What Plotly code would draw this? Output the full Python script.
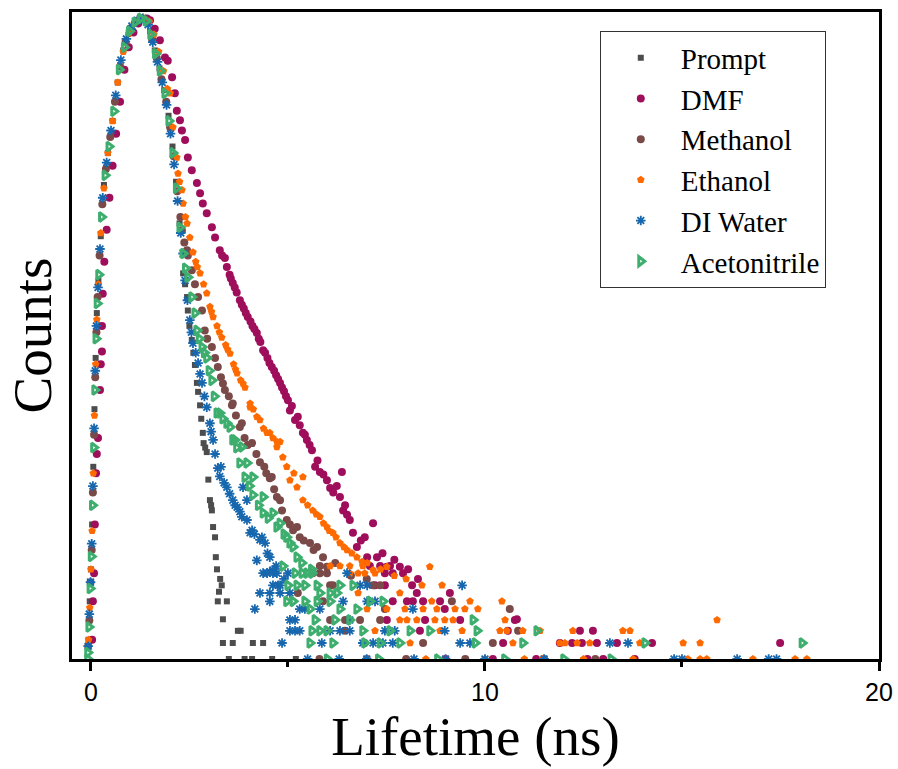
import plotly.graph_objects as go

# ---- data (time in ns, normalised counts) ----
prompt = [(-0.06,0.03),(-0.03,0.09),(0.0,0.14),(0.03,0.21),(0.06,0.30),(0.09,0.39),(0.12,0.47),(0.15,0.54),
          (0.19,0.59),(0.25,0.66),(0.33,0.74),(0.43,0.79),(0.55,0.84),(0.68,0.90),(0.82,0.95),(0.96,0.978),
          (1.10,0.992),(1.24,1.0),(1.38,0.998),(1.50,0.98),(1.62,0.95),(1.74,0.922),(1.86,0.888),(1.97,0.848),
          (2.07,0.80),(2.16,0.745),(2.25,0.68),(2.34,0.602),(2.39,0.585),(2.44,0.565),(2.46,0.544),(2.50,0.52),
          (2.56,0.498),(2.60,0.478),(2.64,0.459),(2.69,0.431),(2.72,0.417),(2.77,0.396),(2.80,0.375),(2.84,0.353),
          (2.86,0.337),(2.90,0.33),(2.94,0.323),(2.98,0.28),(3.02,0.248),(3.05,0.24),(3.07,0.232),(3.10,0.206),
          (3.15,0.190),(3.17,0.159),(3.20,0.14),(3.28,0.125),(3.32,0.115),(3.25,0.105),(3.22,0.090),(3.45,0.090),
          (3.35,0.062),(3.73,0.044),(3.80,0.044),(3.35,0.025),(3.60,0.025),(4.11,0.025),(4.37,0.025),(3.50,0.0),
          (3.90,0.0),(4.09,0.0),(4.60,0.0),(5.20,0.0)]

dmf = [(0.03,0.03),(0.05,0.09),(0.08,0.134),(0.10,0.21),(0.13,0.29),(0.15,0.32),(0.18,0.345),(0.23,0.42),
       (0.25,0.46),(0.28,0.48),(0.28,0.52),(0.30,0.57),(0.34,0.62),(0.40,0.67),(0.47,0.72),(0.55,0.77),
       (0.64,0.82),(0.74,0.87),(0.85,0.92),(0.96,0.955),(1.08,0.978),(1.20,0.992),(1.32,0.999),(1.42,1.0),
       (1.50,0.997),(1.62,0.984),(1.75,0.966),(1.88,0.939),(1.95,0.934),(2.06,0.908),(2.13,0.883),(2.18,0.856),
       (2.26,0.841),(2.31,0.825),(2.39,0.810),(2.46,0.783),(2.56,0.763),(2.69,0.743),(2.77,0.727),(2.84,0.711),
       (2.94,0.696),(3.07,0.674),(3.15,0.658),(3.27,0.638),(3.33,0.63),(3.40,0.626),(3.45,0.612),(3.52,0.60),
       (3.55,0.594),(3.60,0.587),(3.65,0.58),(3.70,0.572),(3.78,0.560),(3.83,0.553),(3.88,0.547),(3.93,0.54),
       (3.98,0.534),(4.05,0.527),(4.10,0.52),(4.15,0.515),(4.21,0.509),(4.26,0.50),(4.30,0.495),(4.37,0.482),
       (4.42,0.478),(4.48,0.47),(4.53,0.462),(4.59,0.456),(4.65,0.45),(4.70,0.443),(4.75,0.437),(4.80,0.431),
       (4.85,0.424),(4.90,0.418),(4.95,0.41),(5.00,0.404),(5.05,0.388),(5.10,0.395),(5.18,0.373),(5.25,0.378),
       (5.30,0.365),(5.38,0.353),(5.43,0.35),(5.48,0.342),(5.55,0.334),(5.61,0.326),(5.69,0.300),(5.75,0.31),
       (5.81,0.292),(5.90,0.288),(5.99,0.279),(6.07,0.267),(6.15,0.26),(6.24,0.270),(6.32,0.253),(6.37,0.292),
       (6.40,0.232),(6.45,0.24),(6.50,0.225),(6.57,0.217),(6.65,0.197),(6.75,0.175),(6.85,0.185),(6.95,0.19),
       (7.01,0.159),(7.16,0.212),(7.26,0.159),(7.40,0.165),(7.51,0.144),(7.70,0.155),(7.84,0.144),(7.92,0.134),
       (8.05,0.14),(8.30,0.125),
       (7.08,0.145),(7.34,0.145),(7.59,0.145),(7.46,0.134),(7.66,0.134),(8.15,0.115),(7.21,0.115),(7.46,0.115),
       (8.27,0.103),(9.11,0.103),(7.66,0.090),(8.02,0.090),(8.17,0.090),(8.43,0.090),(8.86,0.090),(8.98,0.078),
       (10.81,0.062),(7.51,0.061),(8.48,0.061),(9.37,0.061),(10.76,0.061),(8.35,0.044),(10.58,0.044),
       (12.41,0.044),(12.74,0.044),(10.46,0.025),(11.90,0.025),(12.21,0.025),(12.46,0.025),(12.84,0.025),
       (13.35,0.025),(14.24,0.025),(17.49,0.025),(9.00,0.0),(10.20,0.0),(11.30,0.0),(12.60,0.0),(13.00,0.0),
       (13.80,0.0)]

methanol = [(-0.07,0.02),(-0.04,0.06),(-0.01,0.12),(0.02,0.17),(0.05,0.26),(0.08,0.35),(0.11,0.44),(0.14,0.51),
            (0.17,0.565),(0.22,0.63),(0.29,0.71),(0.38,0.765),(0.49,0.815),(0.61,0.87),(0.74,0.925),(0.88,0.963),
            (1.02,0.985),(1.16,0.996),(1.30,1.0),(1.43,0.994),(1.55,0.968),(1.67,0.938),(1.79,0.905),(1.91,0.87),
            (2.01,0.83),(2.10,0.785),(2.19,0.73),(2.27,0.69),(2.31,0.669),(2.37,0.65),(2.44,0.638),(2.46,0.630),
            (2.56,0.607),(2.64,0.585),(2.72,0.565),(2.82,0.544),(2.89,0.513),(2.95,0.50),(3.07,0.487),(3.15,0.47),
            (3.22,0.456),(3.30,0.44),(3.35,0.43),(3.40,0.420),(3.50,0.41),(3.58,0.396),(3.60,0.399),(3.68,0.38),
            (3.78,0.362),(3.83,0.368),(3.90,0.345),(3.98,0.334),(4.09,0.337),(4.20,0.32),(4.29,0.307),(4.40,0.30),
            (4.45,0.29),(4.54,0.282),(4.59,0.284),(4.65,0.265),(4.72,0.253),(4.80,0.248),(4.85,0.232),(4.97,0.217),
            (5.05,0.21),(5.13,0.201),(5.23,0.206),(5.30,0.190),(5.40,0.185),(5.56,0.181),(5.65,0.17),(5.74,0.175),
            (5.89,0.159),(5.99,0.144),(6.20,0.15),(6.60,0.13),(7.00,0.125),
            (5.81,0.145),(5.63,0.134),(5.81,0.134),(5.99,0.134),(6.07,0.115),(6.14,0.115),(7.16,0.115),(7.34,0.115),
            (5.25,0.103),(5.89,0.090),(9.16,0.090),(7.46,0.078),(10.63,0.078),(6.07,0.061),(6.45,0.061),
            (6.83,0.061),(7.34,0.061),(6.45,0.044),(10.84,0.044),(6.95,0.025),(8.43,0.025),(10.20,0.025),
            (5.80,0.0),(7.00,0.0),(8.00,0.0),(9.50,0.0),(11.50,0.0),(12.80,0.0)]

ethanol = [(-0.06,0.03),(-0.03,0.08),(0.0,0.14),(0.03,0.20),(0.06,0.29),(0.09,0.38),(0.12,0.46),(0.15,0.53),
           (0.19,0.585),(0.25,0.665),(0.33,0.735),(0.43,0.79),(0.55,0.84),(0.68,0.90),(0.82,0.948),(0.96,0.976),
           (1.10,0.992),(1.24,0.999),(1.36,1.0),(1.48,0.995),(1.60,0.975),(1.72,0.948),(1.84,0.918),(1.94,0.89),
           (2.01,0.883),(2.08,0.830),(2.18,0.783),(2.21,0.758),(2.25,0.745),(2.31,0.732),(2.34,0.711),(2.40,0.69),
           (2.44,0.680),(2.51,0.658),(2.59,0.635),(2.66,0.62),(2.70,0.612),(2.77,0.602),(2.86,0.585),(2.94,0.571),
           (3.02,0.55),(3.06,0.542),(3.10,0.534),(3.20,0.52),(3.26,0.51),(3.32,0.502),(3.42,0.49),(3.47,0.483),
           (3.53,0.477),(3.62,0.46),(3.67,0.452),(3.71,0.446),(3.80,0.435),(3.86,0.43),(3.91,0.424),(4.04,0.399),
           (4.04,0.393),(4.12,0.39),(4.21,0.378),(4.29,0.373),(4.38,0.36),(4.47,0.353),(4.54,0.353),(4.62,0.345),
           (4.72,0.339),(4.72,0.331),(4.80,0.339),(4.87,0.315),(4.97,0.300),(5.05,0.279),(5.15,0.29),(5.23,0.268),
           (5.38,0.284),(5.38,0.248),(5.50,0.24),(5.63,0.232),(5.72,0.226),(5.81,0.222),(5.90,0.212),(5.99,0.206),
           (6.05,0.20),(6.14,0.197),(6.22,0.19),(6.32,0.181),(6.42,0.175),(6.50,0.170),(6.62,0.165),(6.75,0.159),
           (6.88,0.152),(7.01,0.150),(7.16,0.139),(7.35,0.14),(7.51,0.144),(7.70,0.13),(8.00,0.125),(8.60,0.144),
           (6.07,0.145),(6.32,0.145),(6.57,0.145),(6.90,0.145),(6.57,0.134),(6.78,0.134),(6.95,0.134),
           (7.21,0.134),(8.40,0.115),(8.91,0.115),(6.78,0.103),(7.84,0.103),(8.65,0.090),(9.62,0.090),(10.43,0.090),
           (7.01,0.078),(7.51,0.078),(7.97,0.078),(8.43,0.078),(8.78,0.078),(9.24,0.078),(9.49,0.078),(9.82,0.078),
           (7.84,0.061),(8.02,0.061),(8.27,0.061),(8.73,0.061),(8.98,0.061),(9.19,0.061),(10.51,0.061),(15.89,0.061),
           (7.21,0.044),(8.86,0.044),(9.42,0.044),(10.38,0.044),(10.56,0.044),(10.96,0.044),(11.40,0.044),
           (12.23,0.044),(13.50,0.044),(13.68,0.044),(8.10,0.025),(10.71,0.025),(11.90,0.025),(12.03,0.025),
           (12.34,0.025),(12.66,0.025),(13.93,0.025),(15.03,0.025),(15.46,0.025),(7.00,0.0),(8.50,0.0),(10.00,0.0),
           (11.00,0.0),(11.47,0.0),(12.50,0.0),(13.76,0.0),(15.15,0.0),(15.46,0.0),(15.63,0.0),(16.80,0.0),
           (17.87,0.0),(18.17,0.0)]

di_water = [(-0.07,0.02),(-0.04,0.07),(-0.01,0.12),(0.02,0.18),(0.05,0.27),(0.08,0.36),(0.11,0.45),(0.14,0.52),
            (0.18,0.58),(0.23,0.64),(0.30,0.72),(0.40,0.775),(0.51,0.825),(0.63,0.88),(0.76,0.935),(0.90,0.968),
            (1.04,0.988),(1.18,0.997),(1.32,1.0),(1.45,0.99),(1.57,0.963),(1.69,0.932),(1.81,0.90),(1.92,0.865),
            (2.02,0.82),(2.11,0.772),(2.20,0.715),(2.28,0.665),(2.34,0.633),(2.39,0.591),(2.45,0.56),(2.51,0.529),
            (2.55,0.51),(2.59,0.493),(2.66,0.478),(2.72,0.462),(2.77,0.445),(2.82,0.431),(2.88,0.41),(2.94,0.393),
            (3.02,0.368),(3.05,0.355),(3.10,0.342),(3.15,0.32),(3.22,0.298),(3.27,0.285),(3.30,0.300),(3.38,0.275),
            (3.45,0.268),(3.52,0.258),(3.60,0.248),(3.66,0.24),(3.71,0.237),(3.78,0.23),(3.83,0.222),(3.86,0.268),
            (3.96,0.248),(3.96,0.217),(4.04,0.197),(4.09,0.201),(4.15,0.195),(4.29,0.186),(4.34,0.190),(4.42,0.181),
            (4.21,0.154),(4.48,0.165),(4.54,0.159),(4.54,0.136),(4.62,0.139),(4.70,0.145),(4.75,0.115),(4.90,0.125),
            (4.37,0.134),(4.47,0.134),(4.62,0.134),(4.72,0.134),(5.00,0.134),(6.50,0.134),(4.62,0.115),(4.80,0.115),
            (6.83,0.115),(7.01,0.115),(9.42,0.115),(4.29,0.103),(4.54,0.103),(4.80,0.103),(5.05,0.103),(4.54,0.090),
            (6.40,0.090),(7.01,0.090),(7.21,0.090),(4.16,0.078),(5.30,0.078),(5.43,0.078),(5.81,0.078),(8.17,0.078),
            (5.05,0.061),(5.18,0.061),(6.57,0.061),(5.05,0.044),(5.18,0.044),(5.30,0.044),(6.07,0.044),(6.32,0.044),
            (6.57,0.044),(7.46,0.044),(7.71,0.044),(8.98,0.044),(4.85,0.025),(5.86,0.025),(6.90,0.025),(7.16,0.025),
            (7.41,0.025),(7.66,0.025),(9.37,0.025),(9.62,0.025),(13.17,0.025),(13.63,0.025),(5.50,0.0),(6.30,0.0),
            (7.00,0.0),(8.20,0.0),(9.00,0.0),(10.00,0.0),(11.50,0.0),(14.80,0.0),(15.00,0.0),(16.40,0.0),(17.20,0.0),
            (17.40,0.0)]

acetonitrile = [(-0.08,0.0),(-0.08,0.01),(-0.05,0.05),(-0.02,0.11),(0.01,0.16),(0.04,0.24),(0.07,0.33),(0.10,0.42),
                (0.13,0.50),(0.16,0.555),(0.20,0.60),(0.27,0.69),(0.36,0.755),(0.46,0.80),(0.58,0.855),(0.72,0.92),
                (0.85,0.955),(0.98,0.98),(1.12,0.994),(1.26,1.0),(1.40,0.996),(1.52,0.975),(1.64,0.945),(1.76,0.918),
                (1.88,0.883),(1.98,0.84),(2.08,0.79),(2.17,0.735),(2.26,0.674),(2.34,0.633),(2.40,0.61),(2.46,0.596),
                (2.56,0.565),(2.64,0.540),(2.69,0.513),(2.75,0.50),(2.82,0.487),(2.88,0.478),(2.94,0.470),(3.00,0.45),
                (3.07,0.435),(3.13,0.41),(3.20,0.384),(3.27,0.384),(3.35,0.375),(3.45,0.368),(3.53,0.362),(3.60,0.342),
                (3.65,0.342),(3.70,0.33),(3.78,0.306),(3.83,0.331),(3.91,0.284),(3.96,0.306),(4.02,0.27),(4.11,0.284),
                (4.11,0.256),(4.25,0.24),(4.37,0.253),(4.37,0.228),(4.50,0.22),(4.62,0.228),(4.72,0.206),(4.80,0.212),
                (4.90,0.195),(4.97,0.190),(5.05,0.181),(5.13,0.175),(5.23,0.159),(5.35,0.15),(5.48,0.134),(5.60,0.14),
                (4.87,0.145),(5.18,0.134),(5.36,0.134),(5.61,0.134),(5.00,0.115),
                (5.23,0.115),(5.43,0.115),(5.74,0.115),(6.32,0.115),(6.65,0.115),(5.81,0.103),(6.07,0.103),(6.24,0.103),
                (4.97,0.090),(5.13,0.090),(5.43,0.090),(5.74,0.090),(6.07,0.090),(7.08,0.090),(7.41,0.090),(5.56,0.078),
                (6.32,0.078),(6.75,0.078),(5.69,0.061),(6.19,0.061),(6.57,0.061),(9.70,0.061),(5.61,0.044),(5.81,0.044),
                (5.99,0.044),(6.90,0.044),(7.59,0.044),(8.10,0.044),(8.60,0.044),(9.80,0.044),(11.32,0.044),(5.56,0.025),
                (6.14,0.025),(6.95,0.025),(7.34,0.025),(7.84,0.025),(9.75,0.025),(10.96,0.025),(14.06,0.025),
                (18.05,0.025),(6.00,0.0),(7.30,0.0),(8.80,0.0),(10.50,0.0),(12.00,0.0),(13.20,0.0)]

series_names = ["Prompt", "DMF", "Methanol", "Ethanol", "DI Water", "Acetonitrile"]
series_data = [prompt, dmf, methanol, ethanol, di_water, acetonitrile]
x_ticks = [0, 10, 20]

styles = {
    "Prompt": dict(symbol="square", color="#4D4D4D", size=6),
    "DMF": dict(symbol="circle", color="#9E0E5B", size=8),
    "Methanol": dict(symbol="circle", color="#7A4A49", size=8),
    "Ethanol": dict(symbol="pentagon", color="#FF6A00", size=8),
    "DI Water": dict(symbol="asterisk-open", color="#1767AE", size=8, line=dict(color="#1767AE", width=1.8)),
    "Acetonitrile": dict(symbol="triangle-right-open", color="#3DAE6E", size=8, line=dict(color="#3DAE6E", width=3)),
}

fig = go.Figure()
for name, pts in zip(series_names, series_data):
    xs = [p[0] for p in pts]
    ys = [p[1] for p in pts]
    fig.add_trace(go.Scatter(x=xs, y=ys, mode="markers", name=name, marker=dict(styles[name])))

axis_font = dict(family="Liberation Serif, Times New Roman, serif", size=55, color="black")
fig.update_layout(
    width=898, height=769,
    margin=dict(l=72, r=19, t=12, b=110),
    paper_bgcolor="white", plot_bgcolor="white",
    legend=dict(x=0.654, y=0.970, xanchor="left", yanchor="top",
                bgcolor="white", bordercolor="#333333", borderwidth=1,
                font=dict(family="Liberation Serif, Times New Roman, serif", size=29, color="black"),
                itemwidth=70),
    showlegend=True,
)
fig.update_xaxes(
    range=[-0.48, 20.0], tickvals=x_ticks, ticktext=[str(v) for v in x_ticks],
    automargin=False,
    showline=True, linecolor="black", linewidth=3, mirror=True,
    ticks="outside", ticklen=9, tickwidth=3, tickcolor="black",
    minor=dict(tickvals=[5, 15], ticks="outside", ticklen=5, tickwidth=3, tickcolor="black"),
    showgrid=False, zeroline=False,
    tickfont=dict(family="Liberation Sans, Arial, sans-serif", size=25, color="black"),
    title=dict(text="Lifetime (ns)", font=axis_font, standoff=10),
)
fig.update_yaxes(
    range=[0, 1.01], showticklabels=False, ticks="", automargin=False,
    showline=True, linecolor="black", linewidth=3, mirror=True,
    showgrid=False, zeroline=False,
    title=dict(text="Counts", font=axis_font, standoff=0),
)

fig.write_html("out.html")
